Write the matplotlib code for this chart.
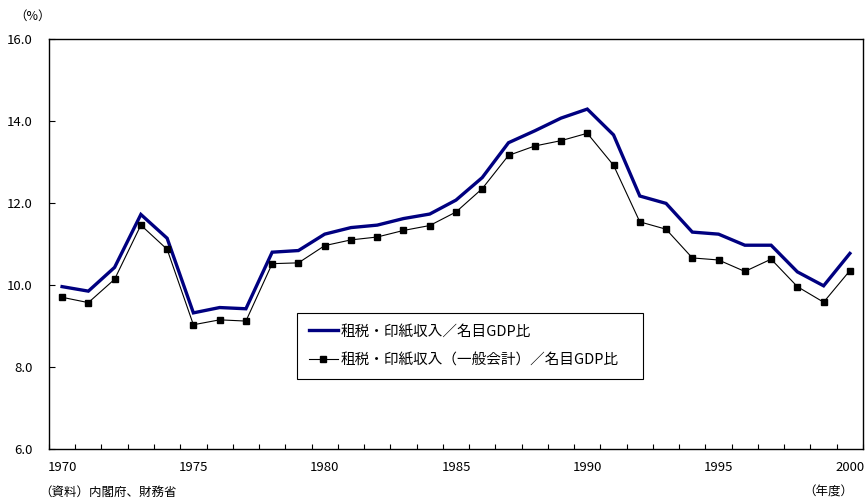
import numpy as np
import matplotlib
matplotlib.use("Agg")
import matplotlib.pyplot as plt
from matplotlib.ticker import FixedLocator

plt.rcParams['font.family'] = ['Noto Sans CJK JP', 'DejaVu Sans']

# 年度
years = np.arange(1970, 2001)

# 租税・印紙収入／名目GDP比 (%)
tax_total = [9.96, 9.85, 10.43, 11.72, 11.14, 9.32, 9.45, 9.42, 10.80, 10.84,
             11.24, 11.40, 11.46, 11.62, 11.73, 12.07, 12.62, 13.47, 13.76, 14.07,
             14.29, 13.66, 12.17, 11.99, 11.29, 11.24, 10.97, 10.97, 10.32, 9.98,
             10.77]

# 租税・印紙収入（一般会計）／名目GDP比 (%)
tax_general = [9.70, 9.57, 10.14, 11.46, 10.87, 9.03, 9.15, 9.12, 10.52, 10.54,
               10.96, 11.10, 11.17, 11.33, 11.45, 11.78, 12.35, 13.16, 13.39, 13.52,
               13.70, 12.92, 11.54, 11.36, 10.66, 10.61, 10.33, 10.63, 9.96, 9.58,
               10.35]

label_total = "租税・印紙収入／名目GDP比"
label_general = "租税・印紙収入（一般会計）／名目GDP比"

fig = plt.figure(figsize=(8.65, 5.01), dpi=100)
ax = fig.add_axes([0.0566, 0.1038, 0.9411, 0.8184])

ax.plot(years, tax_total, color="#000080", lw=2.4, label=label_total,
        solid_joinstyle="miter")
ax.plot(years, tax_general, color="black", lw=0.8, marker="s", markersize=4.5,
        label=label_general)

ax.set_xlim(1969.5, 2000.5)
ax.set_ylim(6, 16)

# 目盛り（区切りは年の境界、ラベルは5年ごと）
ax.xaxis.set_major_locator(FixedLocator(np.arange(1970, 2001, 5)))
ax.xaxis.set_minor_locator(FixedLocator(np.arange(1969.5, 2001, 1)))
ax.tick_params(axis="x", which="major", length=0, pad=9, labelsize=9.5)
ax.tick_params(axis="x", which="minor", direction="in", length=3.5, width=0.8)
ax.set_yticks(np.arange(6, 16.1, 2))
ax.set_yticklabels([f"{v:.1f}" for v in np.arange(6, 16.1, 2)])
ax.tick_params(axis="y", direction="in", length=4, width=0.8, pad=12, labelsize=9.5)

for side in ["left", "bottom", "top", "right"]:
    ax.spines[side].set_linewidth(1.0)
    ax.spines[side].set_color("black")

leg = ax.legend(loc="upper left", bbox_to_anchor=(0.305, 0.166, 0.425, 0.166),
                mode="expand", fancybox=False, framealpha=1, edgecolor="black",
                fontsize=10.5, handlelength=2.0, handletextpad=0.15,
                borderpad=0.8, labelspacing=1.0, borderaxespad=0)
leg.get_frame().set_linewidth(0.8)

fig.text(0.038, 0.967, "（%）", fontsize=9, ha="center", va="center")
fig.text(0.045, 0.018, "（資料）内閣府、財務省", fontsize=9, ha="left", va="center")
fig.text(0.957, 0.018, "（年度）", fontsize=9, ha="center", va="center")

fig.savefig("out.png", dpi=100)
